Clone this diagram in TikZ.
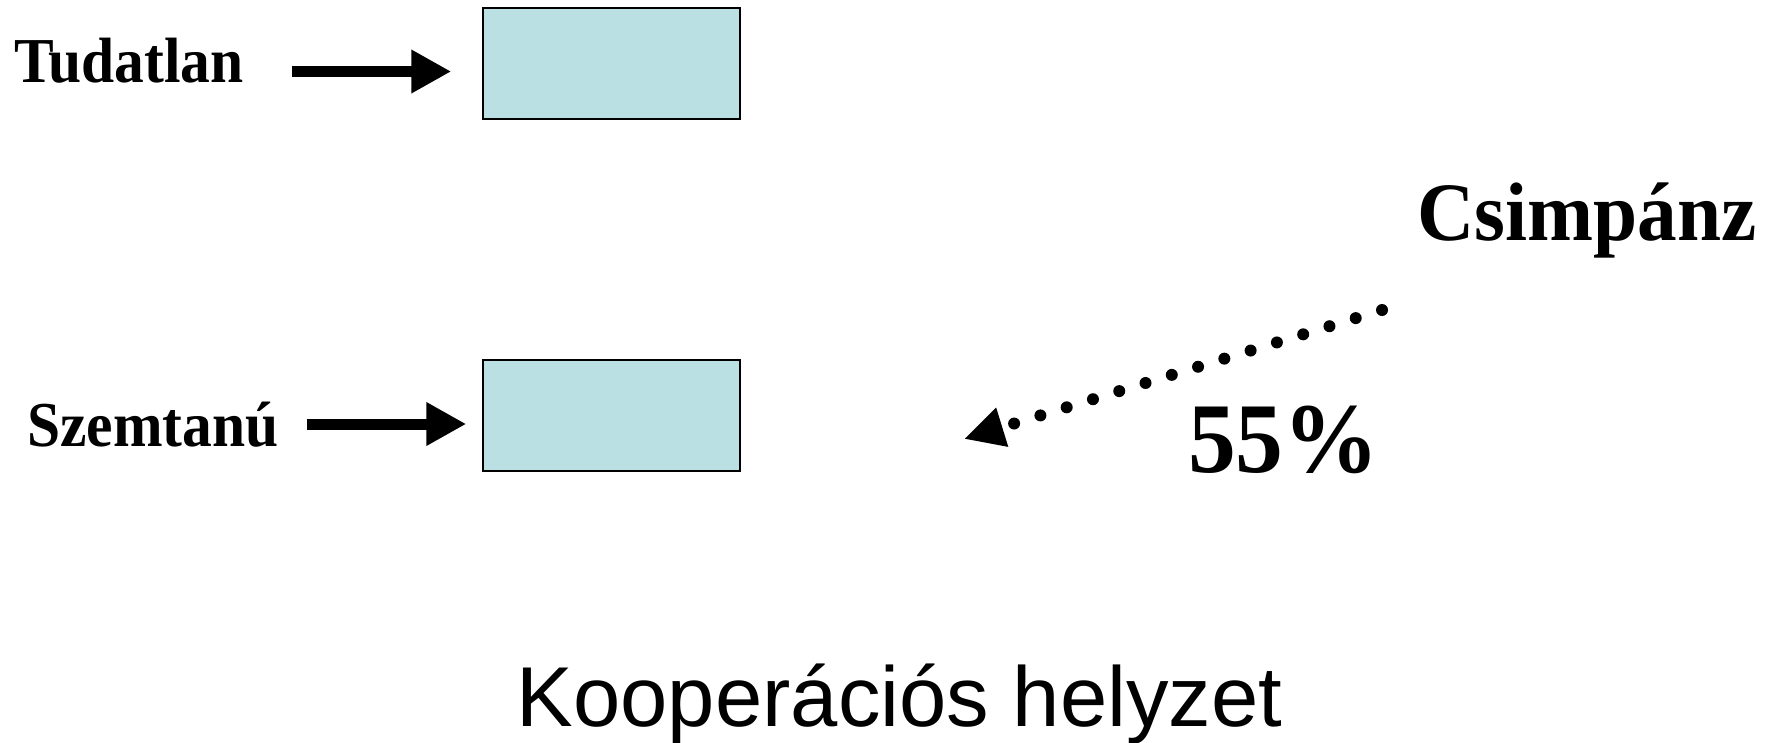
\documentclass[tikz,border=0pt]{standalone}
\usepackage{fontspec}
\setmainfont{Liberation Serif}
\setsansfont{Liberation Sans}
\newfontfamily\lblfont[FakeStretch=0.93]{Liberation Serif}
\newfontfamily\bigfont[FakeStretch=0.955]{Liberation Serif}
\usetikzlibrary{arrows.meta}
\definecolor{boxfill}{HTML}{BBE0E3}
\tikzset{
  lbl/.style={font=\lblfont\bfseries\fontsize{64}{68}\selectfont, inner sep=0pt, anchor=base west},
  slot/.style={draw=black, line width=1.5pt, fill=boxfill, minimum width=257pt, minimum height=111pt, inner sep=0pt},
  bigarrow/.style={line width=11pt, -{Triangle[length=40pt,width=41pt]}},
  dotarrow/.style={line width=12pt, line cap=round, dash pattern=on 0pt off 27.5pt, -{Triangle[length=40pt,width=38pt]}}
}
\begin{document}
\begin{tikzpicture}[x=1pt,y=-1pt]
\useasboundingbox (0,0) rectangle (1779,742);
\node[slot] (b1) at (611.5,63.5) {};
\node[slot] (b2) at (611.5,415.5) {};
\node[lbl] (tud) at (14,82) {Tudatlan};
\node[lbl] (szem) at (27,446) {Szemtanú};
\coordinate (a1s) at (292,71.5);
\coordinate (a2s) at (307,424);
\draw[bigarrow, shorten >=31pt] (a1s) -- (a1s -| b1.west);
\draw[bigarrow, shorten >=16pt] (a2s) -- (a2s -| b2.west);
\node[font=\bigfont\bfseries\fontsize{83}{88}\selectfont, inner sep=0pt, anchor=base west] (cs) at (1417,240) {Csimpánz};
\node[font=\bigfont\bfseries\fontsize{100}{104}\selectfont, inner sep=0pt, anchor=base west] (pct) at (1188,472) {55\%};
\coordinate (ds) at (1382,310);
\coordinate (de) at (964,439);
\draw[dotarrow] (ds) -- (de);
\node[font=\sffamily\fontsize{85}{90}\selectfont, inner sep=0pt, anchor=base] (title) at (899.5,726) {Kooperációs helyzet};
\end{tikzpicture}
\end{document}
